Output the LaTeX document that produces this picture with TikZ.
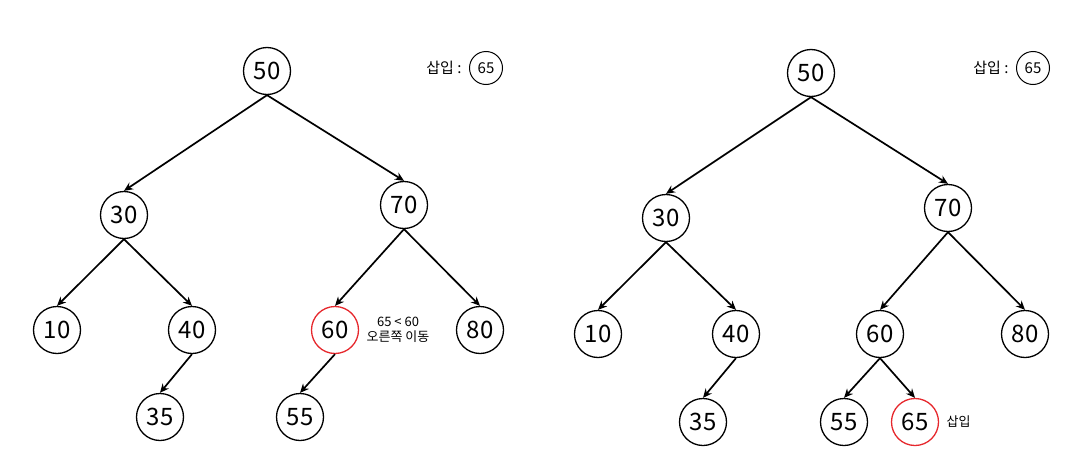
\documentclass[tikz,border=0pt]{standalone}
\usepackage{fontspec}
\setmainfont{Noto Sans CJK KR}
\usepackage{xcolor}
\usepackage{tikz}
\usetikzlibrary{arrows.meta, positioning}

\definecolor{hitred}{RGB}{230,40,45}

\tikzset{
  bst/.style={draw, circle, line width=1.3pt, minimum size=47pt, inner sep=0pt, font=\fontsize{24}{27}\selectfont},
  bsthit/.style={bst, draw=hitred},
  keybox/.style={draw, circle, line width=1pt, minimum size=33pt, inner sep=0pt, font=\fontsize{15}{18}\selectfont},
  note/.style={font=\fontsize{13}{17}\selectfont, align=center},
  tag/.style={font=\fontsize{15}{18}\selectfont},
  link/.style={-{Stealth[length=9pt,width=8pt]}, line width=1.7pt}
}

\begin{document}
\begin{tikzpicture}[x=1pt, y=-1pt]
\useasboundingbox (0,0) rectangle (1071,471);

% Nodes (before)
\node[bst] (a50) at (267,71) {50};
\node[bst] (a30) at (124,215) {30};
\node[bst] (a70) at (404,205) {70};
\node[bst] (a10) at (57,330) {10};
\node[bst] (a40) at (192,330) {40};
\node[bsthit] (a60) at (335,330) {60};
\node[bst] (a80) at (480,330) {80};
\node[bst] (a35) at (160,417) {35};
\node[bst] (a55) at (300,417) {55};

% Nodes (after)
\node[bst] (b50) at (811,73) {50};
\node[bst] (b30) at (666,218) {30};
\node[bst] (b70) at (948,208) {70};
\node[bst] (b10) at (598,334) {10};
\node[bst] (b40) at (736,334) {40};
\node[bst] (b60) at (880,334) {60};
\node[bst] (b80) at (1025,334) {80};
\node[bst] (b35) at (703,422) {35};
\node[bst] (b55) at (844,422) {55};
\node[bsthit] (b65) at (915,422) {65};

% Arrows
\draw[link] (a50.south) -- (a30.north);
\draw[link] (a50.south) -- (a70.north);
\draw[link] (a30.south) -- (a10.north);
\draw[link] (a30.south) -- (a40.north);
\draw[link] (a70.south) -- (a60.north);
\draw[link] (a70.south) -- (a80.north);
\draw[link] (a40.south) -- (a35.north);
\draw[link] (a60.south) -- (a55.north);

\draw[link] (b50.south) -- (b30.north);
\draw[link] (b50.south) -- (b70.north);
\draw[link] (b30.south) -- (b10.north);
\draw[link] (b30.south) -- (b40.north);
\draw[link] (b70.south) -- (b60.north);
\draw[link] (b70.south) -- (b80.north);
\draw[link] (b40.south) -- (b35.north);
\draw[link] (b60.south) -- (b55.north);
\draw[link] (b60.south) -- (b65.north);

% Labels
\node[keybox] (akey) at (486,68) {65};
\node[tag, left=4pt of akey] (atag) {삽입 :};
\node[note, right=4pt of a60] (astep) {65 < 60\\[-2pt]오른쪽 이동};
\node[keybox] (bkey) at (1033,68) {65};
\node[tag, left=4pt of bkey] (btag) {삽입 :};
\node[note, right=4pt of b65] (bstep) {삽입};
\end{tikzpicture}
\end{document}
